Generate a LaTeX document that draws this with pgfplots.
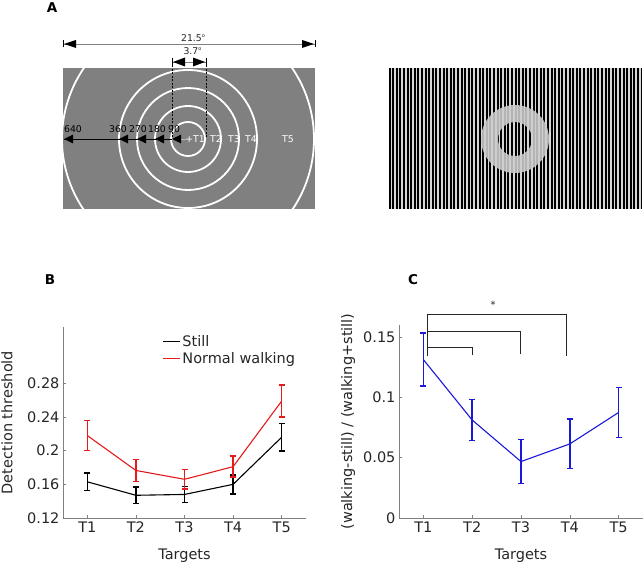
\documentclass[border=0pt]{standalone}
\usepackage{fontspec}
\setmainfont{DejaVu Sans}
\usepackage{pgfplots}
\pgfplotsset{compat=1.18}
\definecolor{bgA}{RGB}{128,128,128}
\definecolor{stripe}{RGB}{215,215,215}
\definecolor{ring}{RGB}{205,205,205}
\definecolor{axgray}{RGB}{128,128,128}
\definecolor{txt}{RGB}{38,38,38}
\definecolor{mred}{RGB}{228,26,28}
\definecolor{mblue}{RGB}{25,25,215}
\newcommand{\fs}{\fontsize{14.5}{17}\selectfont}
\newcommand{\fa}{\fontsize{9.3}{11}\selectfont}
\newcommand{\ft}{\fontsize{9.3}{11}\selectfont}
\newcommand{\fl}{\fontsize{13.5}{15}\selectfont\bfseries}

\pgfplotstableread{
x y e
1 0.163 0.0103
2 0.147 0.0099
3 0.148 0.0095
4 0.160 0.0113
5 0.216 0.0164
}\still
\pgfplotstableread{
x y e
1 0.218 0.0176
2 0.1765 0.0130
3 0.166 0.0117
4 0.181 0.0125
5 0.259 0.0190
}\walking
\pgfplotstableread{
x y e
1 0.1313 0.0219
2 0.0812 0.0169
3 0.0468 0.0182
4 0.0614 0.0205
5 0.0875 0.0206
}\ratio

\begin{document}
\begin{tikzpicture}
\useasboundingbox (0,0) rectangle (644pt,565pt);
% ---------- panel A (drawn in a hidden pixel-coordinate axis) ----------
\begin{axis}[at={(0pt,0pt)}, anchor=south west, scale only axis,
  width=644pt, height=565pt, xmin=0, xmax=644, ymin=0, ymax=565,
  y dir=reverse, axis lines=none, clip=false]
\node[font=\fl, text=black, inner sep=0pt] at (axis cs:52,8) {A};
\node[font=\fl, text=black, inner sep=0pt] at (axis cs:50,280) {B};
\node[font=\fl, text=black, inner sep=0pt] at (axis cs:413,280) {C};
% left stimulus
\fill[bgA] (axis cs:63,68) rectangle (axis cs:315,209);
\begin{scope}
\clip (axis cs:63,68) rectangle (axis cs:315,209);
\draw[white, line width=1.8pt] (axis cs:188,139) circle[radius=126pt];
\end{scope}
\draw[white, line width=1.8pt] (axis cs:188,139) circle[radius=17pt];
\draw[white, line width=1.8pt] (axis cs:188,139) circle[radius=33pt];
\draw[white, line width=1.8pt] (axis cs:188,139) circle[radius=51pt];
\draw[white, line width=1.8pt] (axis cs:188,139) circle[radius=69pt];
% 21.5 arrow
\draw[axgray, line width=0.6pt] (axis cs:63,44) -- (axis cs:315,44);
\draw[black, line width=0.6pt] (axis cs:63,40.5) -- (axis cs:63,47.5);
\draw[black, line width=0.6pt] (axis cs:315,40.5) -- (axis cs:315,47.5);
\fill[black] (axis cs:64,44) -- (axis cs:76,40) -- (axis cs:76,48) -- cycle;
\fill[black] (axis cs:314,44) -- (axis cs:302,40) -- (axis cs:302,48) -- cycle;
\node[font=\fa, text=txt, anchor=base] at (axis cs:193,42) {21.5\raisebox{0.45em}{\fontsize{5}{6}\selectfont o}};
% 3.7 arrow
\draw[axgray, line width=0.6pt] (axis cs:172,62) -- (axis cs:206,62);
\draw[black, line width=0.6pt] (axis cs:172,58) -- (axis cs:172,66);
\draw[black, line width=0.6pt] (axis cs:206,58) -- (axis cs:206,66);
\fill[black] (axis cs:173,62) -- (axis cs:185,57.5) -- (axis cs:185,66.5) -- cycle;
\fill[black] (axis cs:205,62) -- (axis cs:193,57.5) -- (axis cs:193,66.5) -- cycle;
\node[font=\fa, text=txt, anchor=base] at (axis cs:192.5,54.5) {3.7\raisebox{0.45em}{\fontsize{5}{6}\selectfont o}};
\draw[black, line width=0.4pt, dash pattern=on 2pt off 1.5pt] (axis cs:172,62) -- (axis cs:172,139);
\draw[black, line width=0.4pt, dash pattern=on 2pt off 1.5pt] (axis cs:206,62) -- (axis cs:206,139);
% eccentricity arrows
\draw[black, line width=0.8pt] (axis cs:64,139) -- (axis cs:172,139);
\draw[gray!55, line width=0.8pt] (axis cs:172,139) -- (axis cs:186,139);
\pgfplotsinvokeforeach{64,119,137,155,172}{
  \fill[black] (axis cs:#1,139) -- (axis cs:#1+9,134.5) -- (axis cs:#1+9,143.5) -- cycle;
}
\node[font=\fa, text=black, anchor=base] at (axis cs:73,133) {640};
\node[font=\fa, text=black, anchor=base] at (axis cs:118,133) {360};
\node[font=\fa, text=black, anchor=base] at (axis cs:138,133) {270};
\node[font=\fa, text=black, anchor=base] at (axis cs:157,133) {180};
\node[font=\fa, text=black, anchor=base] at (axis cs:174,133) {90};
\node[font=\ft, text=white] at (axis cs:195,139) {+T1};
\node[font=\ft, text=white] at (axis cs:216,139) {T2};
\node[font=\ft, text=white] at (axis cs:234,139) {T3};
\node[font=\ft, text=white] at (axis cs:251,139) {T4};
\node[font=\ft, text=white] at (axis cs:288,139) {T5};
% right stimulus: grating with annulus
\fill[black] (axis cs:389,68) rectangle (axis cs:642,209);
\pgfplotsinvokeforeach{0,...,69}{
  \fill[stripe] (axis cs:390.5+#1*3.6,68) rectangle (axis cs:392.2+#1*3.6,209);
}
\fill[ring, fill opacity=0.88, even odd rule] (axis cs:515,139) circle[radius=34pt] (axis cs:515,139) circle[radius=17pt];
\end{axis}

% ---------- panel B ----------
\begin{axis}[at={(63pt,47pt)}, anchor=south west, scale only axis,
  width=243pt, height=191pt,
  xmin=0.5, xmax=5.5, ymin=0.12, ymax=0.347,
  axis x line*=bottom, axis y line*=left,
  axis line style={axgray, line width=0.6pt, -},
  xtick={1,2,3,4,5}, xticklabels={T1,T2,T3,T4,T5},
  ytick={0.12,0.16,0.2,0.24,0.28}, yticklabels={0.12,0.16,0.2,0.24,0.28},
  tick align=inside, major tick length=3pt,
  tick style={axgray, line width=0.6pt},
  tick label style={font=\fs, text=txt},
  label style={font=\fs, text=txt},
  xlabel={Targets}, ylabel={Detection threshold},
  xlabel style={at={(axis description cs:0.5,-0.199)}, anchor=center},
  ylabel style={at={(axis description cs:-0.2305,0.5)}, anchor=center, inner sep=0pt},
  legend style={at={(axis description cs:0.41,0.965)}, anchor=north west,
    draw=none, fill=none, font=\fs, text=txt, row sep=1.5pt,
    inner sep=0pt, nodes={inner sep=1.5pt}},
  legend cell align=left,
  legend image code/.code={\draw[#1, line width=1.1pt] (0pt,0pt) -- (17pt,0pt);},
  clip=false]
\addplot[black, line width=1.1pt, mark=none,
  error bars/.cd, y dir=both, y explicit,
  error bar style={line width=1.5pt, black},
  error mark options={rotate=90, mark size=3pt, line width=1.5pt, black}]
  table[x=x, y=y, y error=e] {\still};
\addlegendentry{Still}
\addplot[mred, line width=1.1pt, mark=none,
  error bars/.cd, y dir=both, y explicit,
  error bar style={line width=1.5pt, mred},
  error mark options={rotate=90, mark size=3pt, line width=1.5pt, mred}]
  table[x=x, y=y, y error=e] {\walking};
\addlegendentry{Normal walking}
\end{axis}

% ---------- panel C ----------
\begin{axis}[at={(399pt,47pt)}, anchor=south west, scale only axis,
  width=244pt, height=193pt,
  xmin=0.5, xmax=5.5, ymin=0, ymax=0.16,
  axis x line*=bottom, axis y line*=left,
  axis line style={axgray, line width=0.6pt, -},
  xtick={1,2,3,4,5}, xticklabels={T1,T2,T3,T4,T5},
  ytick={0,0.05,0.1,0.15}, yticklabels={0,0.05,0.1,0.15},
  tick align=inside, major tick length=3pt,
  tick style={axgray, line width=0.6pt},
  tick label style={font=\fs, text=txt},
  label style={font=\fs, text=txt},
  xlabel={Targets}, ylabel={(walking-still) / (walking+still)},
  xlabel style={at={(axis description cs:0.5,-0.197)}, anchor=center},
  ylabel style={at={(axis description cs:-0.209,0.5)}, anchor=center, inner sep=0pt},
  clip=false]
\addplot[mblue, line width=1.1pt, mark=none,
  error bars/.cd, y dir=both, y explicit,
  error bar style={line width=1.5pt, mblue},
  error mark options={rotate=90, mark size=3pt, line width=1.5pt, mblue}]
  table[x=x, y=y, y error=e] {\ratio};
% significance brackets
\addplot[txt, line width=0.8pt, mark=none] coordinates {(1.09,0.1340) (1.09,0.1692)};
\addplot[txt, line width=0.8pt, mark=none] coordinates {(1.09,0.1417) (2.01,0.1417) (2.01,0.1348)};
\addplot[txt, line width=0.8pt, mark=none] coordinates {(1.09,0.1549) (2.98,0.1549) (2.98,0.1357)};
\addplot[txt, line width=0.8pt, mark=none] coordinates {(1.09,0.1692) (3.93,0.1692) (3.93,0.1343)};
\node[font=\fontsize{10}{12}\selectfont, text=txt] at (axis cs:2.43,0.1765) {*};
\end{axis}
\end{tikzpicture}
\end{document}
